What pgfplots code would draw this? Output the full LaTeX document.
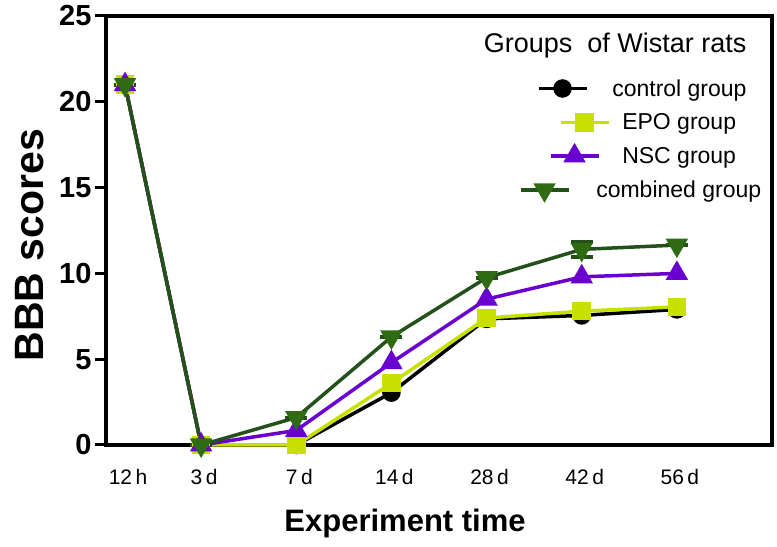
\documentclass[border=0pt]{standalone}
\usepackage{pgfplots}
\pgfplotsset{compat=1.18}
\usepackage{fontspec}
\setmainfont{Liberation Sans}
\definecolor{epo}{HTML}{C8E000}
\definecolor{nsc}{HTML}{6A00D0}
\definecolor{combl}{HTML}{24501A}
\definecolor{combm}{HTML}{2E6B12}
\pgfplotsset{
  legimg/.style={legend image code/.code={%
    \path (0pt,0pt) (88pt,0pt);
    \begin{scope}[xshift=#1pt]
    \draw[mark repeat=2,mark phase=2] plot coordinates {(0pt,0pt) (24pt,0pt) (48pt,0pt)};
    \end{scope}}}
}
\begin{document}
\begin{tikzpicture}
\begin{axis}[
  name=ax,
  scale only axis,
  width=666pt, height=429pt,
  xmin=0, xmax=7, ymin=0, ymax=25,
  axis line style={line width=3.5pt},
  xtick={0.2,1,2,3,4,5,6},
  xticklabels={12\,h,3\,d,7\,d,14\,d,28\,d,42\,d,56\,d},
  x tick label style={font=\fontsize{21}{24}\selectfont, yshift=-10pt, xshift=3pt},
  major x tick style={draw=none},
  ytick={0,5,10,15,20,25},
  y tick label style={font=\fontsize{29}{32}\selectfont\bfseries},
  /pgf/number format/assume math mode=true,
  tick align=outside,
  ytick pos=left,
  major tick length=11pt,
  major y tick style={line width=3pt, black},
  xlabel={\fontsize{31}{34}\selectfont\bfseries Experiment time},
  xlabel style={at={(axis description cs:0.449,-0.182)}, anchor=center},
  ylabel={\fontsize{41}{44}\selectfont\bfseries BBB scores},
  ylabel style={at={(axis description cs:-0.114,0.466)}, anchor=center},
  clip=false,
  legend style={at={(axis description cs:0.615,0.862)}, anchor=north west, draw=none, fill=none,
    font=\fontsize{23}{25}\selectfont, row sep=12pt, legend cell align=left,
    /tikz/every even column/.append style={column sep=0pt}},
]
\addplot[black, line width=3.5pt, mark=*, mark size=7.5pt, mark options={solid}, legimg=18] coordinates {
(0.2,21) (1,0) (2,0) (3,3.05) (4,7.35) (5,7.55) (6,7.9)};
\addlegendentry{control group}
\addplot[epo, line width=3.5pt, mark=square*, mark size=7.5pt, legimg=40] coordinates {
(0.2,21) (1,0) (2,0) (3,3.6) (4,7.4) (5,7.8) (6,8.05)};
\addlegendentry{\hspace*{10pt}EPO group}
\addplot[nsc, line width=3.5pt, mark=triangle*, mark size=9.5pt, legimg=30] coordinates {
(0.2,21) (1,0) (2,0.85) (3,4.8) (4,8.5) (5,9.8) (6,10.0)};
\addlegendentry{\hspace*{10pt}NSC group}
\addplot[combl, line width=3.5pt, mark=triangle*, mark size=9.5pt, legimg=0,
  mark options={rotate=180, fill=combm, draw=combm},
  error bars/.cd, y dir=both, y explicit,
  error bar style={line width=4pt, combl},
  error mark options={rotate=90, mark size=11pt, line width=4pt, combl}] coordinates {
(0.2,21) +- (0,0) (1,0) +- (0,0) (2,1.6) +- (0,0) (3,6.3) +- (0,0) (4,9.75) +- (0,0) (5,11.4) +- (0,0.45) (6,11.65) +- (0,0)};
\addlegendentry{\hspace*{-16pt}combined group}
\node[anchor=base east, font=\fontsize{27}{29}\selectfont] at (rel axis cs:0.967,0.916) {Groups\ \ of Wistar rats};
\end{axis}
\pgfresetboundingbox
\path ([shift={(-106pt,-102pt)}]ax.south west) rectangle ([shift={(5pt,16pt)}]ax.north east);
\end{tikzpicture}
\end{document}
